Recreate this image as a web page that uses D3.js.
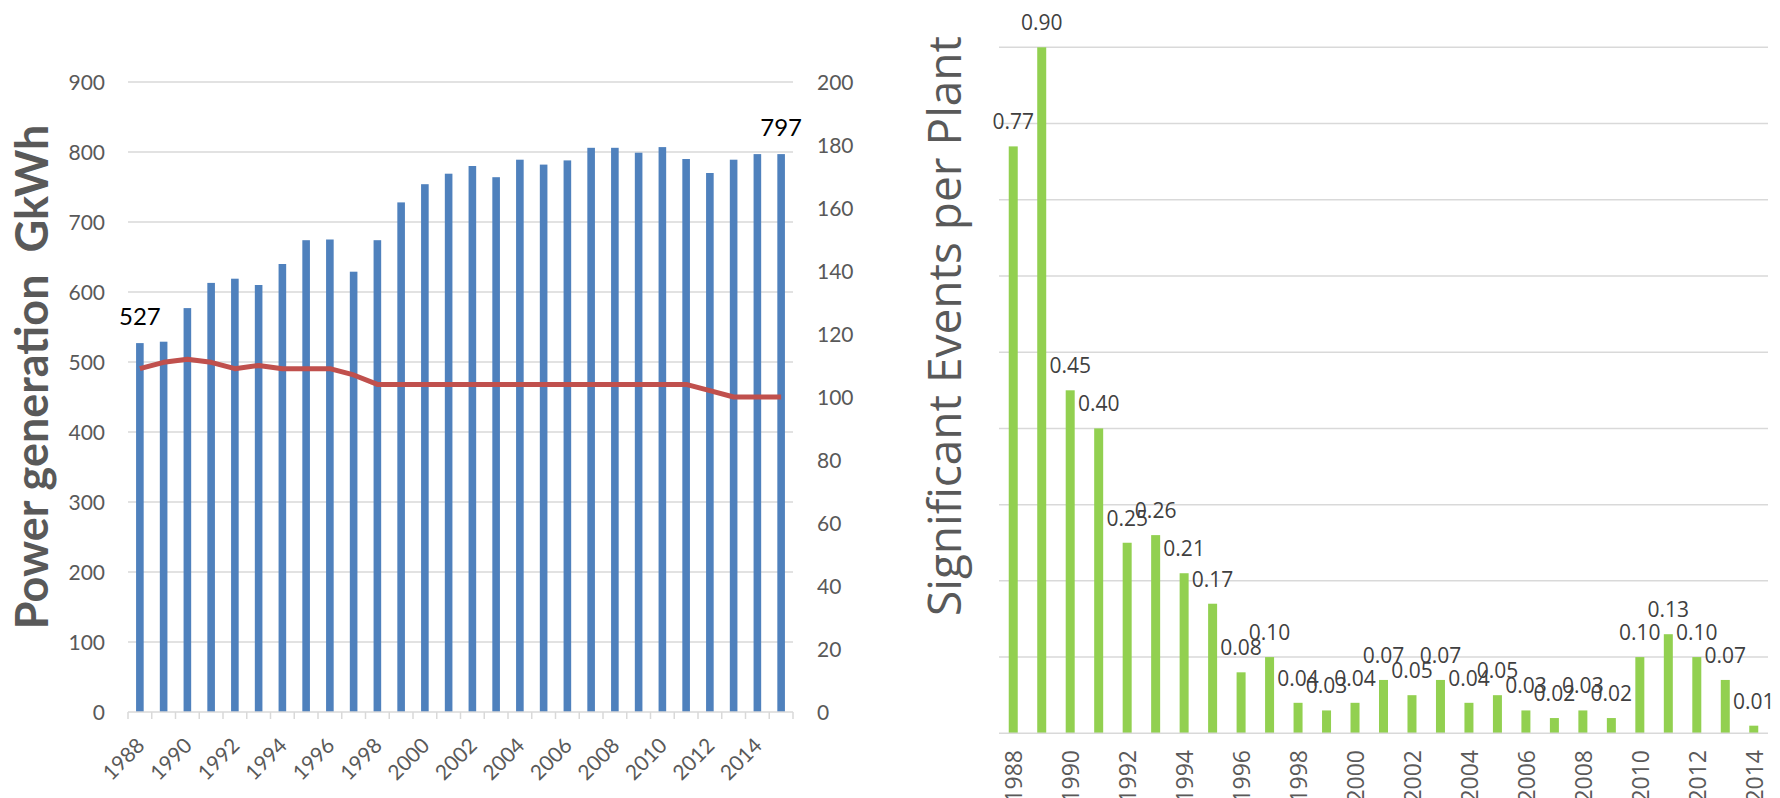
<!DOCTYPE html>
<html>
<head>
<meta charset="utf-8">
<script src="https://cdn.jsdelivr.net/npm/d3@7"></script>
<style>
  html, body { margin: 0; padding: 0; background: #fff; }
  svg { display: block; }
</style>
</head>
<body>
<svg id="chart" width="1780" height="798"></svg>
<script>
// ---- Power generation (bars, left axis) and number of plants (line, right axis)
const genYears = ["1988","1989","1990","1991","1992","1993","1994","1995","1996","1997",
  "1998","1999","2000","2001","2002","2003","2004","2005","2006","2007",
  "2008","2009","2010","2011","2012","2013","2014","2015"];
const generation = [527, 529, 577, 613, 619, 610, 640, 674, 675, 629,
  674, 728, 754, 769, 780, 764, 789, 782, 788, 806,
  806, 799, 807, 790, 770, 789, 797, 797];
const plantCount = [109, 111, 112, 111, 109, 110, 109, 109, 109, 107,
  104, 104, 104, 104, 104, 104, 104, 104, 104, 104,
  104, 104, 104, 104, 102, 100, 100, 100];
const genTicks = [0, 100, 200, 300, 400, 500, 600, 700, 800, 900];
const plantTicks = [0, 20, 40, 60, 80, 100, 120, 140, 160, 180, 200];
const genLabelYears = ["1988", "2015"];

// ---- Significant events per plant
const eventYears = ["1988","1989","1990","1991","1992","1993","1994","1995","1996","1997",
  "1998","1999","2000","2001","2002","2003","2004","2005","2006","2007",
  "2008","2009","2010","2011","2012","2013","2014"];
const eventsPerPlant = [0.77, 0.90, 0.45, 0.40, 0.25, 0.26, 0.21, 0.17, 0.08, 0.10,
  0.04, 0.03, 0.04, 0.07, 0.05, 0.07, 0.04, 0.05, 0.03, 0.02,
  0.03, 0.02, 0.10, 0.13, 0.10, 0.07, 0.01];
const eventGrid = [0.1, 0.2, 0.3, 0.4, 0.5, 0.6, 0.7, 0.8, 0.9];

const svg = d3.select("#chart");
const gridColor = "#d9d9d9";
const axisText = "#595959";

// ================= Left chart =================
(function () {
  const left = 128, right = 793, top = 82, bottom = 712;
  const x = d3.scaleBand().domain(genYears).range([left, right])
    .paddingInner(0.68).paddingOuter(0.34);
  const step = x.step();
  const yL = d3.scaleLinear().domain([0, 900]).range([bottom, top]);
  const yR = d3.scaleLinear().domain([0, 200]).range([bottom, top]);
  const g = svg.append("g");

  // horizontal gridlines
  g.selectAll("line.grid").data(genTicks.filter(d => d > 0)).join("line")
    .attr("x1", left).attr("x2", right)
    .attr("y1", d => yL(d)).attr("y2", d => yL(d))
    .attr("stroke", gridColor).attr("stroke-width", 1.5);

  // left axis labels
  const axL = d3.axisLeft(yL).tickValues(genTicks).tickSize(0).tickPadding(0);
  const gl = g.append("g").attr("transform", `translate(105,0)`).call(axL);
  gl.select(".domain").remove();
  gl.selectAll("text").attr("font-family", "Lato").attr("font-size", 21)
    .attr("fill", axisText).attr("dy", "0.36em");

  // right axis labels
  const axR = d3.axisRight(yR).tickValues(plantTicks).tickSize(0).tickPadding(0);
  const gr = g.append("g").attr("transform", `translate(817,0)`).call(axR);
  gr.select(".domain").remove();
  gr.selectAll("text").attr("font-family", "Lato").attr("font-size", 21)
    .attr("fill", axisText).attr("dy", "0.36em");

  // bars
  g.selectAll("rect.gen").data(genYears).join("rect")
    .attr("x", (d) => x(d))
    .attr("width", x.bandwidth())
    .attr("y", (d, i) => yL(generation[i]))
    .attr("height", (d, i) => bottom - yL(generation[i]))
    .attr("fill", "#4f81bd");

  // category axis line and tick marks at band edges
  g.append("line").attr("x1", left).attr("x2", right)
    .attr("y1", bottom).attr("y2", bottom)
    .attr("stroke", gridColor).attr("stroke-width", 1.5);
  g.selectAll("line.tick").data(d3.range(genYears.length + 1)).join("line")
    .attr("x1", i => left + i * step).attr("x2", i => left + i * step)
    .attr("y1", bottom).attr("y2", bottom + 7)
    .attr("stroke", gridColor).attr("stroke-width", 1.5);

  // plant count line
  const line = d3.line()
    .x((d, i) => x(genYears[i]) + x.bandwidth() / 2)
    .y(d => yR(d));
  g.append("path").datum(plantCount)
    .attr("d", line).attr("fill", "none")
    .attr("stroke", "#c0504d").attr("stroke-width", 5)
    .attr("stroke-linejoin", "round");

  // rotated year labels
  g.selectAll("text.year").data(genYears.filter((d, i) => i % 2 === 0)).join("text")
    .attr("transform", d => `translate(${x(d) + x.bandwidth() / 2 + 6},747) rotate(-45)`)
    .attr("text-anchor", "end")
    .attr("font-family", "Lato").attr("font-size", 21).attr("fill", axisText)
    .text(d => d);

  // value labels on first and last bars
  g.selectAll("text.val").data(genLabelYears).join("text")
    .attr("x", d => x(d) + x.bandwidth() / 2)
    .attr("y", d => yL(generation[genYears.indexOf(d)]) - 18)
    .attr("text-anchor", "middle")
    .attr("font-family", "Lato").attr("font-size", 24).attr("fill", "#000")
    .text(d => generation[genYears.indexOf(d)]);

  // axis title
  g.append("text")
    .attr("transform", "translate(48,377) rotate(-90)")
    .attr("text-anchor", "middle")
    .attr("font-family", "Lato").attr("font-weight", 700).attr("font-size", 45)
    .attr("fill", axisText)
    .attr("xml:space", "preserve")
    .text("Power generation  GkWh");
})();

// ================= Right chart =================
(function () {
  const left = 999, right = 1768, top = 47.3, bottom = 733.3;
  const x = d3.scaleBand().domain(eventYears).range([left, right])
    .paddingInner(0.684).paddingOuter(0.342);
  const y = d3.scaleLinear().domain([0, 0.9]).range([bottom, top]);
  const g = svg.append("g");

  g.selectAll("line.grid").data(eventGrid).join("line")
    .attr("x1", left).attr("x2", right)
    .attr("y1", d => y(d)).attr("y2", d => y(d))
    .attr("stroke", gridColor).attr("stroke-width", 1.5);

  g.selectAll("rect.ev").data(eventYears).join("rect")
    .attr("x", d => x(d))
    .attr("width", x.bandwidth())
    .attr("y", (d, i) => y(eventsPerPlant[i]))
    .attr("height", (d, i) => bottom - y(eventsPerPlant[i]))
    .attr("fill", "#92d050");

  g.append("line").attr("x1", left).attr("x2", right)
    .attr("y1", bottom).attr("y2", bottom)
    .attr("stroke", gridColor).attr("stroke-width", 1.5);

  // value labels above each bar
  g.selectAll("text.val").data(eventYears).join("text")
    .attr("x", d => x(d) + x.bandwidth() / 2)
    .attr("y", (d, i) => y(eventsPerPlant[i]) - 17)
    .attr("text-anchor", "middle")
    .attr("font-family", "Open Sans").attr("font-size", 21).attr("fill", "#404040")
    .text((d, i) => d3.format(".2f")(eventsPerPlant[i]));

  // vertical year labels
  g.selectAll("text.year").data(eventYears.filter((d, i) => i % 2 === 0)).join("text")
    .attr("transform", d => `translate(${x(d) + x.bandwidth() / 2 + 9},750) rotate(-90)`)
    .attr("text-anchor", "end")
    .attr("font-family", "Open Sans").attr("font-size", 23).attr("fill", axisText)
    .text(d => d);

  g.append("text")
    .attr("transform", "translate(961,326) rotate(-90)")
    .attr("text-anchor", "middle")
    .attr("font-family", "Open Sans").attr("font-size", 46)
    .attr("fill", axisText)
    .text("Significant Events per Plant");
})();
</script>
</body>
</html>
